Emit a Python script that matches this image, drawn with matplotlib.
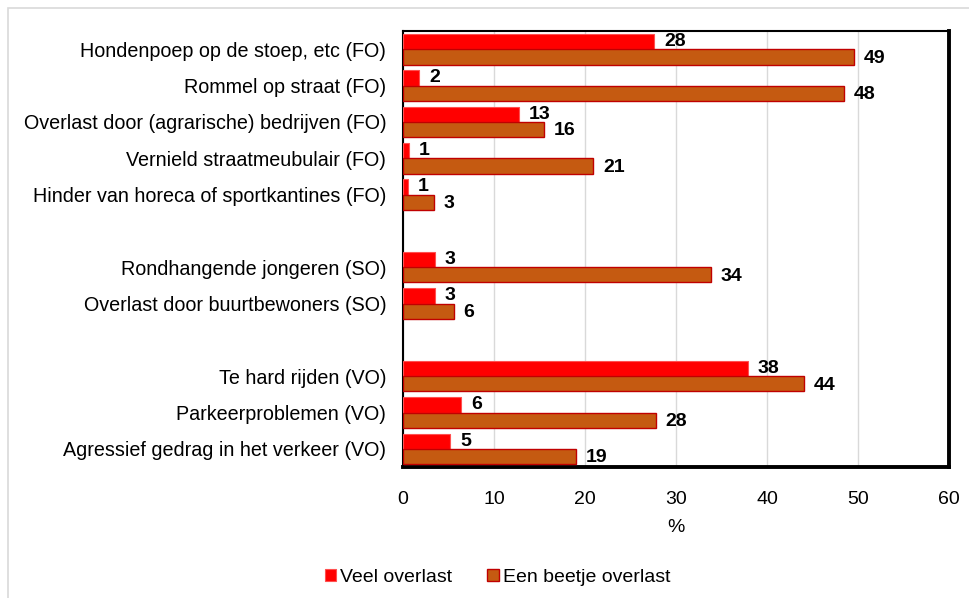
import numpy as np
import matplotlib.pyplot as plt
from matplotlib.patches import Rectangle

plt.rcParams['font.family'] = ['Liberation Sans', 'DejaVu Sans']

# categories, '' marks an empty row between groups
categories = ['Hondenpoep op de stoep, etc (FO)', 'Rommel op straat (FO)',
              'Overlast door (agrarische) bedrijven (FO)', 'Vernield straatmeubulair (FO)',
              'Hinder van horeca of sportkantines (FO)', '',
              'Rondhangende jongeren (SO)', 'Overlast door buurtbewoners (SO)', '',
              'Te hard rijden (VO)', 'Parkeerproblemen (VO)',
              'Agressief gedrag in het verkeer (VO)']
veel = [27.6, 1.8, 12.7, 0.7, 0.6, np.nan, 3.5, 3.5, np.nan, 37.9, 6.4, 5.2]
beetje = [49.5, 48.4, 15.5, 20.9, 3.4, np.nan, 33.8, 5.6, np.nan, 44.1, 27.8, 19.0]
veel_lbl = ['28', '2', '13', '1', '1', '', '3', '3', '', '38', '6', '5']
beetje_lbl = ['49', '48', '16', '21', '3', '', '34', '6', '', '44', '28', '19']

fig = plt.figure(figsize=(9.7, 5.98), dpi=100)
ax = fig.add_axes([0.4155, 0.219, 0.563, 0.729])

y = np.arange(len(categories))
h = 0.42
ax.barh(y - h/2, veel, height=h, color='#FF0000', edgecolor='#FF5050', linewidth=0.8,
        label='Veel overlast', zorder=3)
ax.barh(y + h/2, beetje, height=h, color='#C55A11', edgecolor='#C00000', linewidth=1,
        label='Een beetje overlast', zorder=3)

for i in range(len(categories)):
    if veel_lbl[i]:
        ax.annotate(veel_lbl[i], (veel[i], i - h/2), xytext=(7, 0), textcoords='offset points',
                    va='center', ha='left', fontsize=14, fontweight='bold', zorder=4)
    if beetje_lbl[i]:
        ax.annotate(beetje_lbl[i], (beetje[i], i + h/2), xytext=(7, -1), textcoords='offset points',
                    va='center', ha='left', fontsize=14, fontweight='bold', zorder=4)

ax.set_xlim(0, 60)
ax.set_ylim(len(categories) - 0.5, -0.5)
ax.set_xticks(range(0, 61, 10))
ax.set_yticks(y)
ax.set_yticklabels(categories, fontsize=14.2)
ax.tick_params(axis='x', length=0, pad=17.5, labelsize=14)
ax.tick_params(axis='y', length=0, pad=12)
ax.set_xlabel('%', fontsize=14, labelpad=8)
ax.grid(axis='x', color='#D9D9D9', linewidth=1, zorder=0)
ax.set_axisbelow(True)
for s in ['top', 'left']:
    ax.spines[s].set_linewidth(1.5)
for s in ['right', 'bottom']:
    ax.spines[s].set_linewidth(2.8)

fig.legend(loc='center', bbox_to_anchor=(0.513, 0.035), ncol=2, frameon=False,
           fontsize=14, handlelength=0.6, handleheight=0.6, handletextpad=0.2,
           columnspacing=1.8)

fig.patches.append(Rectangle((8/970, -0.1), 1.2, 1 - 8/598 + 0.1, transform=fig.transFigure,
                             fill=False, edgecolor='#D9D9D9', linewidth=1.2))

fig.savefig('out.png', dpi=100)
